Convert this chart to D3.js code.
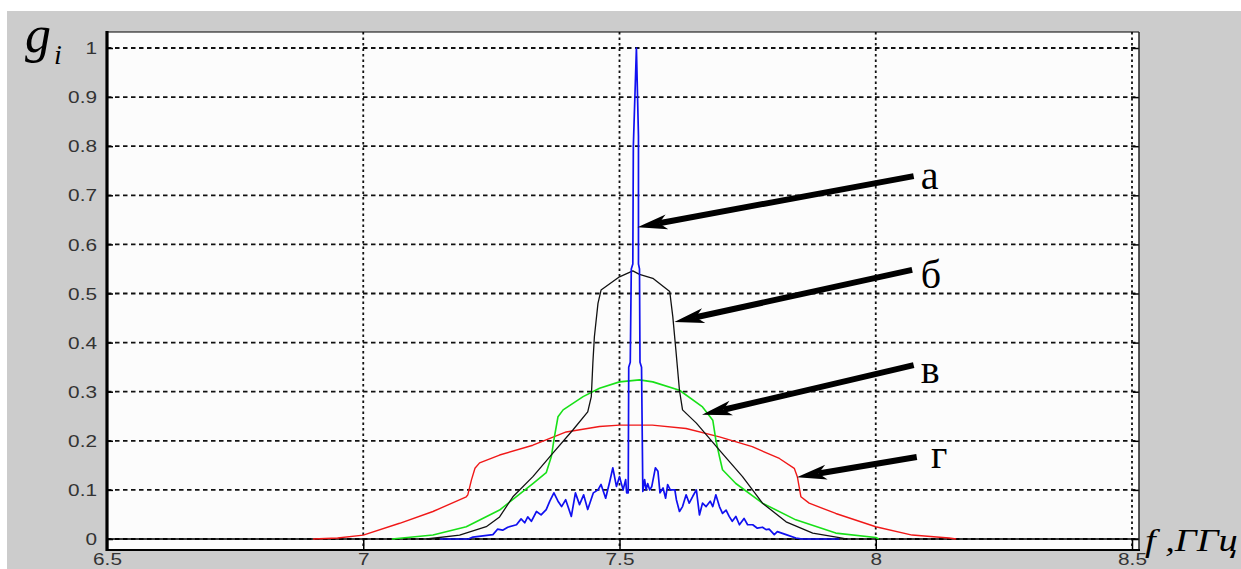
<!DOCTYPE html>
<html>
<head>
<meta charset="utf-8">
<script src="https://cdn.jsdelivr.net/npm/d3@7"></script>
<style>
  body { margin: 0; background: #fff; }
  svg { display: block; }
</style>
</head>
<body>
<div id="chart"></div>
<script>
// spectra g_i(f), f in GHz
const fRed = [6.902, 6.950, 7.000, 7.071, 7.136, 7.201, 7.204, 7.211, 7.218, 7.227, 7.266, 7.331, 7.396, 7.461, 7.500,
    7.564, 7.630, 7.695, 7.759, 7.812, 7.841, 7.847, 7.854, 7.870, 7.922, 8.000, 8.071, 8.143, 8.157];
const gRed = [0, 0.002, 0.008, 0.032, 0.056, 0.086, 0.090, 0.120, 0.144, 0.155, 0.171, 0.191, 0.218, 0.229, 0.232,
    0.232, 0.225, 0.208, 0.188, 0.164, 0.144, 0.127, 0.086, 0.073, 0.052, 0.025, 0.008, 0.002, 0];

const fGreen = [7.056, 7.136, 7.201, 7.266, 7.331, 7.357, 7.367, 7.373, 7.380, 7.390, 7.429, 7.461, 7.500, 7.539,
    7.565, 7.617, 7.662, 7.682, 7.688, 7.695, 7.701, 7.727, 7.779, 7.844, 7.922, 8.000, 8.006];
const gGreen = [0, 0.008, 0.025, 0.059, 0.113, 0.135, 0.168, 0.208, 0.249, 0.263, 0.290, 0.307, 0.320, 0.324,
    0.320, 0.303, 0.269, 0.242, 0.202, 0.168, 0.141, 0.113, 0.073, 0.039, 0.012, 0.003, 0];

const fBlack = [7.123, 7.188, 7.240, 7.266, 7.292, 7.331, 7.370, 7.409, 7.438, 7.445, 7.448, 7.451, 7.458, 7.464, 7.500,
    7.526, 7.539, 7.565, 7.598, 7.604, 7.610, 7.617, 7.623, 7.650, 7.695, 7.740, 7.779, 7.825, 7.877, 7.929, 7.942];
const gBlack = [0, 0.008, 0.025, 0.045, 0.086, 0.127, 0.175, 0.222, 0.259, 0.290, 0.358, 0.412, 0.480, 0.507, 0.534,
    0.546, 0.539, 0.531, 0.504, 0.453, 0.385, 0.303, 0.263, 0.236, 0.181, 0.127, 0.073, 0.035, 0.012, 0.003, 0];

const fBlue = [7.150, 7.205, 7.214, 7.253, 7.262, 7.272, 7.282, 7.299, 7.308, 7.315, 7.321, 7.328, 7.338, 7.347, 7.357,
    7.364, 7.372, 7.380, 7.387, 7.395, 7.406, 7.414, 7.422, 7.430, 7.438, 7.449, 7.458, 7.464, 7.473,
    7.481, 7.487, 7.494, 7.500, 7.507, 7.512, 7.514,
    7.517, 7.518, 7.521, 7.523, 7.526, 7.527, 7.533, 7.537, 7.537, 7.539, 7.540, 7.543, 7.5455,
    7.549, 7.552, 7.555, 7.559, 7.563, 7.570, 7.575, 7.579, 7.585, 7.590, 7.594, 7.599, 7.608, 7.611,
    7.617, 7.623, 7.630, 7.636, 7.643, 7.650, 7.656, 7.662, 7.669, 7.677, 7.682, 7.688, 7.695, 7.701,
    7.708, 7.714, 7.720, 7.727, 7.734, 7.743, 7.750, 7.760, 7.769, 7.779, 7.786, 7.792, 7.802, 7.808,
    7.825, 7.844, 7.857, 7.929];
const gBlue = [0, 0, 0.004, 0.009, 0.020, 0.018, 0.024, 0.029, 0.041, 0.033, 0.045, 0.036, 0.056, 0.049, 0.060,
    0.077, 0.094, 0.077, 0.066, 0.080, 0.046, 0.094, 0.070, 0.090, 0.060, 0.094, 0.100, 0.111, 0.083,
    0.117, 0.145, 0.107, 0.127, 0.100, 0.121, 0.094,
    0.094, 0.35, 0.36, 0.55, 0.56, 0.80, 1.0, 0.82, 0.56, 0.55, 0.36, 0.35, 0.097,
    0.121, 0.100, 0.113, 0.100, 0.107, 0.145, 0.138, 0.094, 0.104, 0.083, 0.111, 0.100, 0.100, 0.080,
    0.056, 0.066, 0.090, 0.073, 0.087, 0.100, 0.049, 0.073, 0.066, 0.077, 0.066, 0.090, 0.066, 0.052,
    0.059, 0.046, 0.036, 0.046, 0.029, 0.042, 0.029, 0.029, 0.022, 0.024, 0.019, 0.020, 0.009, 0.015,
    0.009, 0.002, 0, 0];

const xTicks = [6.5, 7, 7.5, 8, 8.5];
const yTicks = [0, 0.1, 0.2, 0.3, 0.4, 0.5, 0.6, 0.7, 0.8, 0.9, 1];

// annotation letters: arrow tip (f, g), arrow tail (f, g), label position (f, g)
const noteNames = ["а", "б", "в", "г"];
const noteTips = [[7.535, 0.635], [7.607, 0.442], [7.661, 0.253], [7.846, 0.126]];
const noteTails = [[8.074, 0.739], [8.071, 0.548], [8.074, 0.354], [8.080, 0.167]];
const noteLabels = [[8.088, 0.712], [8.088, 0.512], [8.088, 0.318], [8.108, 0.145]];

const width = 1241, height = 569;
const plot = { left: 107, right: 1139, top: 32, bottom: 550 };

const svg = d3.select("#chart").append("svg")
    .attr("width", width)
    .attr("height", height);

svg.append("rect").attr("width", width).attr("height", height).attr("fill", "#ffffff");
svg.append("rect").attr("x", 7).attr("y", 11)
    .attr("width", width - 7).attr("height", height - 11)
    .attr("fill", "#cccccc");

const x = d3.scaleLinear().domain([6.5, 8.5]).range([107, 1132]);
const y = d3.scaleLinear().domain([0, 1]).range([539, 48]);

svg.append("rect")
    .attr("x", plot.left).attr("y", plot.top)
    .attr("width", plot.right - plot.left).attr("height", plot.bottom - plot.top)
    .attr("fill", "#fcfcfc");

// grid
const grid = svg.append("g");
grid.selectAll(".hgrid").data(yTicks).enter().append("line")
    .attr("class", "hgrid")
    .attr("x1", plot.left).attr("x2", plot.right)
    .attr("y1", d => y(d)).attr("y2", d => y(d))
    .attr("stroke", "#111").attr("stroke-width", 1.8)
    .attr("stroke-dasharray", "4.5,3.5");
grid.selectAll(".vgrid").data(xTicks.slice(1)).enter().append("line")
    .attr("class", "vgrid")
    .attr("x1", d => x(d)).attr("x2", d => x(d))
    .attr("y1", plot.top).attr("y2", plot.bottom)
    .attr("stroke", "#111").attr("stroke-width", 1.8)
    .attr("stroke-dasharray", "2.5,3");

// zero line
svg.append("line")
    .attr("x1", plot.left).attr("x2", plot.right)
    .attr("y1", y(0)).attr("y2", y(0))
    .attr("stroke", "#000").attr("stroke-width", 1.5);

const lineMapper = d3.line()
    .x(d => x(d[0]))
    .y(d => y(d[1]));

const series = [
    { f: fRed, g: gRed, color: "#f01818", w: 1.4 },
    { f: fGreen, g: gGreen, color: "#18e018", w: 1.6 },
    { f: fBlack, g: gBlack, color: "#111111", w: 1.3 },
    { f: fBlue, g: gBlue, color: "#1010f0", w: 1.7 }
];

svg.append("g").selectAll(".line").data(series).enter().append("path")
    .attr("class", "line")
    .attr("fill", "none")
    .attr("stroke", d => d.color)
    .attr("stroke-width", d => d.w)
    .attr("stroke-linejoin", "round")
    .attr("d", d => lineMapper(d3.zip(d.f, d.g)));

// axes box
const xAxis = d3.axisBottom(x).tickValues(xTicks).tickSize(-11).tickFormat(d3.format(""));
const xAxisGroup = svg.append("g")
    .attr("transform", `translate(0, ${plot.bottom})`)
    .call(xAxis);
const yAxis = d3.axisLeft(y).tickValues(yTicks).tickSize(-6).tickFormat(d3.format(""));
const yAxisGroup = svg.append("g")
    .attr("transform", `translate(${plot.left}, 0)`)
    .call(yAxis);
const yAxisRight = d3.axisRight(y).tickValues(yTicks).tickSize(-6).tickFormat("");
svg.append("g")
    .attr("transform", `translate(${plot.right}, 0)`)
    .call(yAxisRight);

svg.selectAll(".domain").remove();
svg.selectAll(".tick line").attr("stroke", "#000").attr("stroke-width", 1.5);

// x tick text lives inside the group translated by plot.bottom
xAxisGroup.selectAll(".tick text")
    .attr("y", null).attr("dy", null)
    .attr("transform", `translate(0, ${565 - plot.bottom}) scale(1.3, 1)`)
    .attr("fill", "#333")
    .style("font-family", "'Liberation Sans', Arial, sans-serif")
    .style("font-size", "16px");

yAxisGroup.selectAll(".tick text")
    .attr("x", null).attr("dy", "0.35em")
    .attr("transform", "translate(-10, 0) scale(1.3, 1)")
    .attr("fill", "#333")
    .style("font-family", "'Liberation Sans', Arial, sans-serif")
    .style("font-size", "16px");

// box lines
svg.append("line").attr("x1", plot.left).attr("x2", plot.right)
    .attr("y1", plot.top).attr("y2", plot.top)
    .attr("stroke", "#000").attr("stroke-width", 1.2);
svg.append("line").attr("x1", plot.right).attr("x2", plot.right)
    .attr("y1", plot.top).attr("y2", plot.bottom)
    .attr("stroke", "#222").attr("stroke-width", 1.5);
svg.append("line").attr("x1", plot.left).attr("x2", plot.right + 1)
    .attr("y1", plot.bottom).attr("y2", plot.bottom)
    .attr("stroke", "#000").attr("stroke-width", 2.2);
svg.append("line").attr("x1", plot.left).attr("x2", plot.left)
    .attr("y1", plot.top - 1).attr("y2", plot.bottom + 1)
    .attr("stroke", "#000").attr("stroke-width", 3.2);

// arrows with letters
const notes = noteNames.map((name, i) => ({
    name, tip: noteTips[i], tail: noteTails[i], label: noteLabels[i]
}));

const arrows = svg.append("g");
notes.forEach(n => {
    const tx = x(n.tip[0]), ty = y(n.tip[1]);
    const sx = x(n.tail[0]), sy = y(n.tail[1]);
    const ang = Math.atan2(ty - sy, tx - sx);
    const cos = Math.cos(ang), sin = Math.sin(ang);
    const headLen = 30, headHalf = 7.5, neck = 22;
    arrows.append("line")
        .attr("x1", sx).attr("y1", sy)
        .attr("x2", tx - neck * cos).attr("y2", ty - neck * sin)
        .attr("stroke", "#000").attr("stroke-width", 6);
    const pts = [
        [tx, ty],
        [tx - headLen * cos + headHalf * sin, ty - headLen * sin - headHalf * cos],
        [tx - neck * cos, ty - neck * sin],
        [tx - headLen * cos - headHalf * sin, ty - headLen * sin + headHalf * cos]
    ];
    arrows.append("polygon")
        .attr("points", pts.map(p => p.join(",")).join(" "))
        .attr("fill", "#000");
    arrows.append("text")
        .attr("x", x(n.label[0])).attr("y", y(n.label[1]))
        .attr("fill", "#000")
        .style("font-family", "'Liberation Serif', 'Times New Roman', serif")
        .style("font-size", "40px")
        .text(n.name);
});

// axis titles
const ytitle = svg.append("text")
    .attr("x", 25).attr("y", 52)
    .style("font-family", "'Liberation Serif', 'Times New Roman', serif")
    .style("font-style", "italic")
    .attr("fill", "#000");
ytitle.append("tspan").style("font-size", "52px").text("g");
ytitle.append("tspan").attr("dx", 3).attr("dy", 12).style("font-size", "28px").text("i");

svg.append("text")
    .attr("transform", "translate(1145, 551) scale(1.2, 1)")
    .style("font-family", "'Liberation Serif', 'Times New Roman', serif")
    .style("font-style", "italic")
    .style("font-size", "32px")
    .attr("fill", "#000")
    .text("f ,ГГц");
</script>
</body>
</html>
